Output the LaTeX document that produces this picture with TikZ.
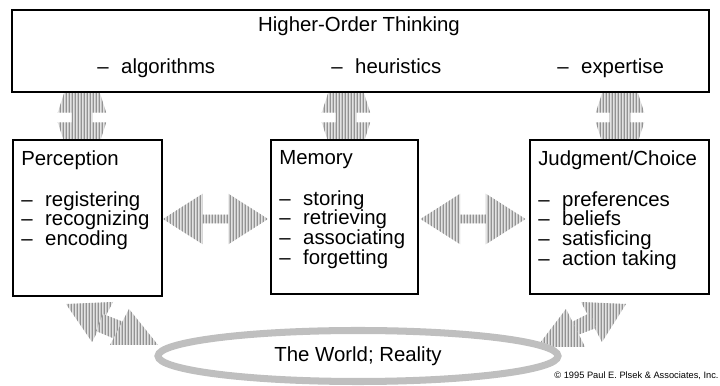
\documentclass[tikz,border=0pt]{standalone}
\usepackage{fontspec}
\setmainfont{Liberation Sans}
\usetikzlibrary{shapes.geometric,shapes.arrows,patterns.meta,backgrounds}

\tikzdeclarepattern{
  name=vhatch, type=uncolored,
  bounding box={(0pt,0pt) and (2pt,2pt)},
  tile size={(2pt,2pt)},
  code={\draw[line width=0.9pt] (1pt,-0.1pt) -- (1pt,2.1pt);}
}

\tikzset{
  box/.style={draw, rectangle, line width=0.9pt, fill=white, inner sep=0pt},
  boxtext/.style={anchor=north west, align=left, inner sep=0pt},
  item/.style={anchor=base west, inner sep=0pt},
  hatch/.style={pattern=vhatch, pattern color=gray!85, preaction={fill=gray!22}},
  hfat/.style={hatch, double arrow, minimum height=2.625cm, minimum width=1.25cm, inner xsep=0pt, inner ysep=0.1cm, double arrow head extend=0.525cm, double arrow tip angle=65, double arrow head indent=0pt},
  vfat/.style={hatch, double arrow, rotate=90, minimum height=3.975cm, minimum width=1.2cm, inner xsep=0pt, inner ysep=0.25cm, double arrow head extend=0.35cm, double arrow tip angle=36, double arrow head indent=0pt}
}
\newcommand{\itm}{\makebox[17pt][l]{–}}

\begin{document}
\begin{tikzpicture}[font=\fontsize{14.5}{14}\selectfont]
\useasboundingbox (0,0) rectangle (18,-9.65);
\clip (0,0) rectangle (18,-9.65);
\node[box, minimum width=17.425cm, minimum height=2.05cm] (top) at (9.0125,-1.275) {};
\node (think) at (8.975,-0.65) {Higher-Order Thinking};
\node[item] (algo) at (2.425,-1.85) {\itm algorithms};
\node[item] (heur) at (8.275,-1.85) {\itm heuristics};
\node[item] (expert) at (13.925,-1.85) {\itm expertise};
\node[box, minimum width=3.725cm, minimum height=3.9cm] (percep) at (2.1875,-5.45) {};
\node[boxtext] (perceptext) at (0.525,-3.755) {Perception\\[15pt]\itm registering\\\itm recognizing\\\itm encoding};
\node[box, minimum width=3.675cm, minimum height=3.85cm] (memory) at (8.6125,-5.425) {};
\node[boxtext] (memorytext) at (6.975,-3.755) {Memory\\[15pt]\itm storing\\\itm retrieving\\\itm associating\\\itm forgetting};
\node[box, minimum width=4.475cm, minimum height=3.85cm] (judge) at (15.4875,-5.425) {};
\node[boxtext] (judgetext) at (13.45,-3.755) {Judgment/Choice\\[15pt]\itm preferences\\\itm beliefs\\\itm satisficing\\\itm action taking};
\node[draw=gray!50, line width=5pt, ellipse, minimum width=10cm, minimum height=1.275cm, inner sep=0pt] (world) at (8.95,-8.9) {The World; Reality};
\node[anchor=east, inner sep=0pt, font=\fontsize{6.6}{8}\selectfont] (copy) at (17.97,-9.4) {© 1995 Paul E. Plsek \& Associates, Inc.};
\begin{scope}[on background layer]
\node[vfat] (up1) at (2.05,-2.9375) {};
\node[vfat] (up2) at (8.65,-2.9375) {};
\node[vfat] (up3) at (15.5,-2.9375) {};
\node[hfat] (pm) at (5.3875,-5.475) {};
\node[hfat] (mj) at (11.825,-5.475) {};
\fill[hatch] (1.65,-7.6) -- (2.825,-7.55) -- (2.3,-8.55) -- cycle;
\fill[hatch] (2.575,-7.85) -- (3.15,-8.075) -- (2.875,-8.475) -- (2.4,-8.275) -- cycle;
\fill[hatch] (3.225,-7.725) -- (3.95,-8.625) -- (2.75,-8.625) -- cycle;
\fill[hatch] (14.525,-7.55) -- (15.65,-7.6) -- (15.05,-8.55) -- cycle;
\fill[hatch] (14.2,-8.1) -- (14.75,-7.825) -- (14.9,-8.2) -- (14.375,-8.4) -- cycle;
\fill[hatch] (14.15,-7.725) -- (14.625,-8.675) -- (13.425,-8.675) -- cycle;
\end{scope}
\end{tikzpicture}
\end{document}
